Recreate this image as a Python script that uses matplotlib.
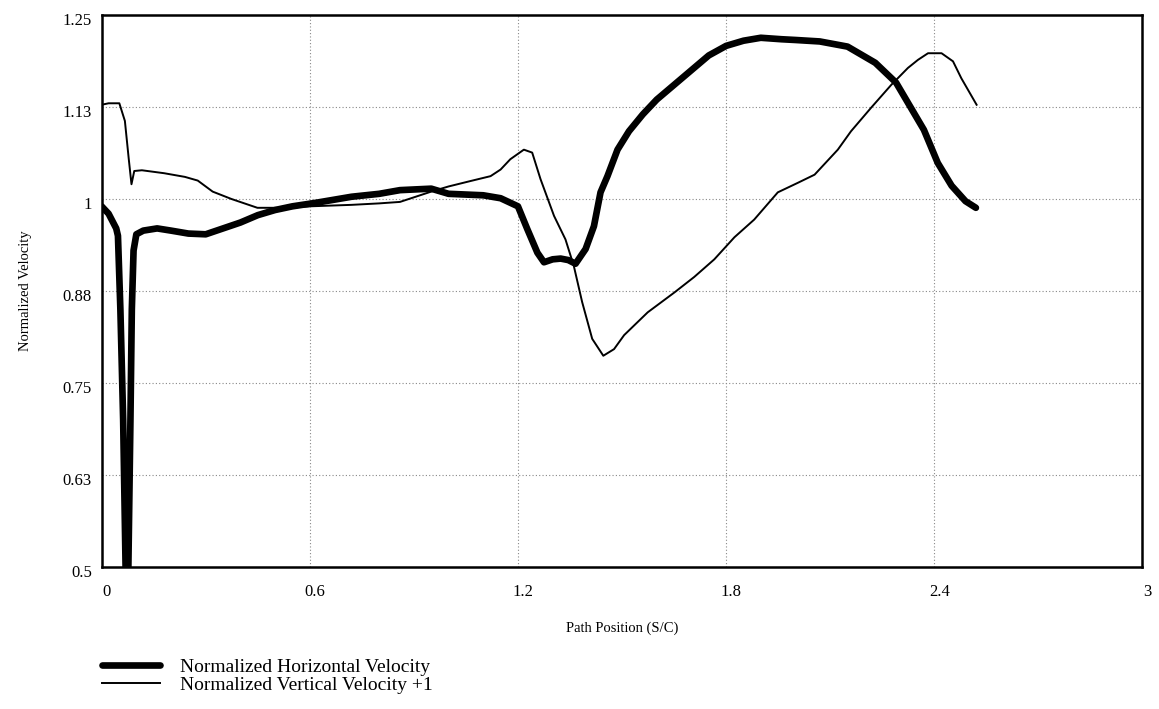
import matplotlib
matplotlib.use("Agg")
import matplotlib.pyplot as plt
import matplotlib.transforms as mtransforms

plt.rcParams["font.family"] = ["Liberation Serif", "DejaVu Serif"]

# Normalized horizontal velocity (thick line)
horiz_x = [0, 0.02, 0.042, 0.047, 0.054, 0.062, 0.069, 0.073, 0.077, 0.083, 0.087, 0.092, 0.1,
           0.12, 0.16, 0.2, 0.25, 0.3, 0.35, 0.4, 0.45, 0.5, 0.55, 0.62, 0.72, 0.8, 0.86, 0.95,
           1.0, 1.1, 1.15, 1.2, 1.227, 1.256, 1.275, 1.3, 1.323, 1.345, 1.366, 1.395, 1.419,
           1.438, 1.458, 1.487, 1.52, 1.56, 1.6, 1.65, 1.7, 1.75, 1.8, 1.85, 1.9, 1.96, 2.0,
           2.07, 2.15, 2.23, 2.29, 2.33, 2.37, 2.41, 2.45, 2.49, 2.52]
horiz_y = [0.99, 0.98, 0.96, 0.95, 0.85, 0.7, 0.5, 0.42, 0.5, 0.7, 0.85, 0.93, 0.952,
           0.957, 0.96, 0.957, 0.953, 0.952, 0.96, 0.968, 0.978, 0.985, 0.99, 0.995, 1.003,
           1.007, 1.012, 1.014, 1.007, 1.005, 1.001, 0.99, 0.959, 0.927, 0.914, 0.918, 0.919,
           0.917, 0.912, 0.932, 0.963, 1.009, 1.031, 1.067, 1.092, 1.115, 1.135, 1.155, 1.175,
           1.195, 1.208, 1.215, 1.219, 1.217, 1.216, 1.214, 1.207, 1.185, 1.158, 1.126, 1.094,
           1.049, 1.018, 0.997, 0.988]

# Normalized vertical velocity +1 (thin line)
vert_x = [0, 0.02, 0.051, 0.067, 0.078, 0.086, 0.094, 0.116, 0.18, 0.24, 0.277, 0.32, 0.374,
          0.449, 0.534, 0.6, 0.72, 0.8, 0.86, 0.95, 1.0, 1.06, 1.121, 1.15, 1.178, 1.217,
          1.241, 1.265, 1.304, 1.337, 1.361, 1.385, 1.414, 1.446, 1.477, 1.506, 1.574, 1.651,
          1.708, 1.766, 1.824, 1.881, 1.949, 2.007, 2.055, 2.122, 2.16, 2.218, 2.276, 2.324,
          2.353, 2.382, 2.421, 2.454, 2.478, 2.522]
vert_y = [1.128, 1.13, 1.13, 1.106, 1.055, 1.02, 1.038, 1.039, 1.035, 1.03, 1.025, 1.01, 1.0,
          0.988, 0.988, 0.99, 0.992, 0.994, 0.996, 1.01, 1.017, 1.024, 1.031, 1.04, 1.054,
          1.067, 1.063, 1.027, 0.977, 0.945, 0.909, 0.86, 0.81, 0.787, 0.796, 0.815, 0.846,
          0.873, 0.894, 0.918, 0.948, 0.972, 1.009, 1.022, 1.033, 1.067, 1.092, 1.124, 1.155,
          1.178, 1.189, 1.198, 1.198, 1.187, 1.164, 1.128]

x_ticks = [0, 0.6, 1.2, 1.8, 2.4, 3]
x_labels = ["0", "0.6", "1.2", "1.8", "2.4", "3"]
y_ticks = [0.5, 0.625, 0.75, 0.875, 1.0, 1.125, 1.25]
y_labels = ["0.5", "0.63", "0.75", "0.88", "1", "1.13", "1.25"]

fig = plt.figure(figsize=(11.59, 7.09), dpi=100)
ax = fig.add_axes([0.0877, 0.2003, 0.898, 0.7786])

ax.plot(horiz_x, horiz_y, color="black", lw=4.8, solid_capstyle="round",
        label="Normalized Horizontal Velocity")
ax.plot(vert_x, vert_y, color="black", lw=1.4,
        label="Normalized Vertical Velocity +1")

ax.set_xlim(0, 3)
ax.set_ylim(0.5, 1.25)
ax.set_xticks(x_ticks)
ax.set_xticklabels(x_labels)
ax.set_yticks(y_ticks)
ax.set_yticklabels(y_labels)
ax.tick_params(length=0, labelsize=12)
ax.tick_params(axis="x", pad=12)
ax.tick_params(axis="y", pad=7)
ax.grid(True, color="#888888", ls=(0, (1, 2)), lw=0.8)
for s in ax.spines.values():
    s.set_linewidth(1.8)

# small nudges like the original rendering
dx = mtransforms.ScaledTranslation(5 / 100, 0, fig.dpi_scale_trans)
for lab in ax.get_xticklabels():
    lab.set_transform(lab.get_transform() + dx)
dy = mtransforms.ScaledTranslation(0, -4 / 100, fig.dpi_scale_trans)
for lab in ax.get_yticklabels():
    lab.set_transform(lab.get_transform() + dy)

ax.set_xlabel("Path Position (S/C)", fontsize=10.5, labelpad=16)
ax.set_ylabel("Normalized Velocity", fontsize=10.5, labelpad=22)

fig.legend(loc="upper left", bbox_to_anchor=(0.0797, 0.085), frameon=False,
           fontsize=14, handlelength=3.0, handletextpad=1.0, labelspacing=0.0,
           borderpad=0)

fig.savefig("out.png", dpi=100)
